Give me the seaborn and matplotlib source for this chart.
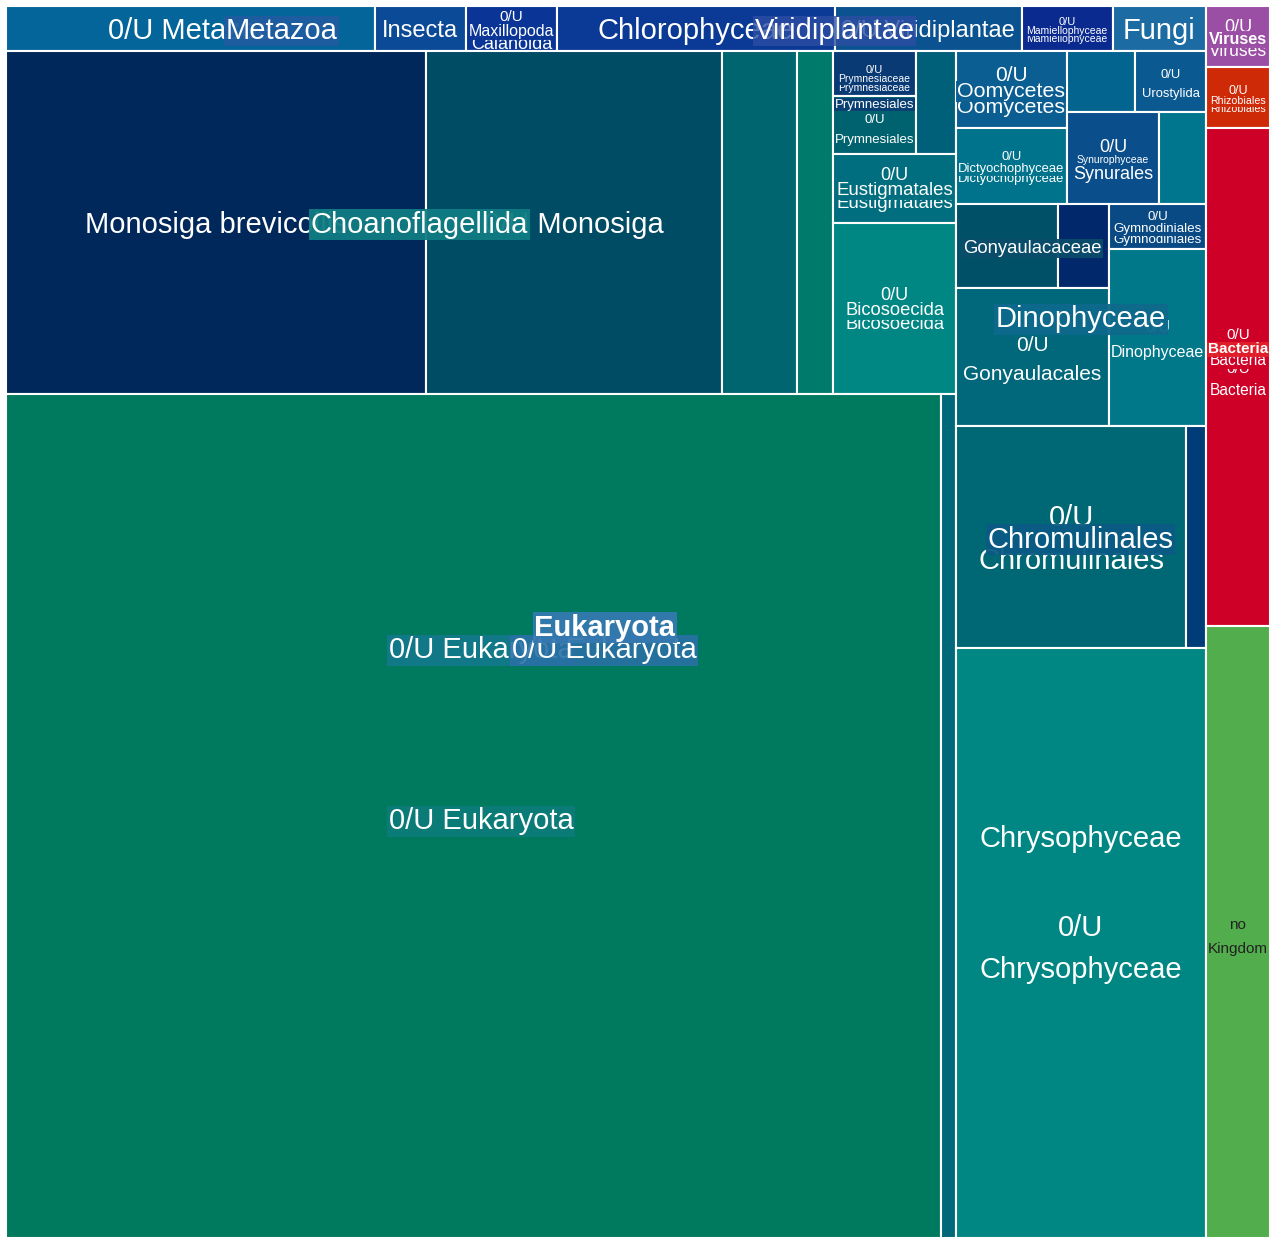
import matplotlib
matplotlib.use('Agg')
import matplotlib.pyplot as plt
from matplotlib.patches import Rectangle
import seaborn as sns

# leaf cells of the treemap (value ~ relative abundance)
leaf_names = ['metazoa_ou', 'insecta', 'calanoida', 'chlorophyceae', 'viridi_ou', 'mamiello', 'fungi',
              'monosiga_brev', 'monosiga_ou', 'choano_3', 'choano_4',
              'prymnesiaceae', 'prymnesiales_ou', 'hapto_x', 'eustigmatales', 'bicosoecida',
              'eukaryota_ou', 'eukaryota_x',
              'oomycetes', 'dictyo', 'stram_x', 'urostylida', 'synurales', 'stram_y',
              'gonyaulacaceae_a', 'gonyaulacaceae_b', 'gonyaulacales', 'gymnodiniales', 'dinophyceae_ou',
              'chromulinales', 'chryso_x', 'chrysophyceae_ou',
              'viruses', 'rhizobiales', 'bacteria_ou', 'no_kingdom']
leaf_values = [166, 41, 41, 125, 84, 41, 42,
               1441, 1015, 257, 123,
               37, 48, 41, 85, 210,
               7891, 127,
               85, 84, 42, 43, 85, 43,
               86, 43, 211, 44, 172,
               511, 44, 1475,
               39, 39, 319, 392]
leaf_colors = ['#03659a', '#0a4a96', '#0a3597', '#0a3a95', '#0b5290', '#0a2a90', '#1c6ba3',
               '#00285a', '#004c64', '#00656e', '#007a6a',
               '#0a3a74', '#00626e', '#00607a', '#006e7e', '#008784',
               '#007a5e', '#006878',
               '#0a5e92', '#00738c', '#03658f', '#0a5990', '#0a4e8c', '#00768e',
               '#005068', '#00286a', '#00687a', '#0a4a84', '#00788a',
               '#006775', '#003c78', '#008784',
               '#9b4fa4', '#cf2a08', '#cf0027', '#52ad4c']

values = dict(zip(leaf_names, leaf_values))
colors = dict(zip(leaf_names, leaf_colors))

# nesting of the treemap: (group, split direction, children)
tree = ('root', 'h', [
    ('eukaryota', 'v', [
        ('top', 'h', [('metazoa', 'h', ['metazoa_ou', 'insecta', 'calanoida']),
                      ('viridiplantae', 'h', ['chlorophyceae', 'viridi_ou', 'mamiello']),
                      'fungi']),
        ('body', 'h', [
            ('left', 'v', [
                ('row1', 'h', [
                    ('choanoflagellida', 'h', ['monosiga_brev', 'monosiga_ou', 'choano_3', 'choano_4']),
                    ('mid', 'v', [('pry_block', 'h', [('prymnesiales', 'v', ['prymnesiaceae', 'prymnesiales_ou']),
                                                      'hapto_x']),
                                  'eustigmatales', 'bicosoecida'])]),
                ('eukaryota_ou_grp', 'h', ['eukaryota_ou', 'eukaryota_x'])]),
            ('right', 'v', [
                ('upper', 'v', [
                    ('strameno', 'h', [('col_oomy', 'v', ['oomycetes', 'dictyo']),
                                       ('col_syn', 'v', [('row_uro', 'h', ['stram_x', 'urostylida']),
                                                         ('row_syn', 'h', ['synurales', 'stram_y'])])]),
                    ('dinophyceae', 'h', [('dino_c', 'v', [('gonyaulacaceae', 'h', ['gonyaulacaceae_a', 'gonyaulacaceae_b']),
                                                           'gonyaulacales']),
                                          ('dino_d', 'v', ['gymnodiniales', 'dinophyceae_ou'])])]),
                ('chrysophyceae', 'v', [('chromulinales_grp', 'h', ['chromulinales', 'chryso_x']),
                                        'chrysophyceae_ou'])])])]),
    ('others', 'v', ['viruses', ('bacteria', 'v', ['rhizobiales', 'bacteria_ou']), 'no_kingdom'])])


def node_value(node):
    if isinstance(node, str):
        return values[node]
    return sum(node_value(k) for k in node[2])


def layout(node, x, y, w, h, rects):
    if isinstance(node, str):
        rects[node] = (x, y, w, h)
        return
    name, direction, kids = node
    rects[name] = (x, y, w, h)
    total = node_value(node)
    pos = 0.0
    for k in kids:
        f = node_value(k) / total
        if direction == 'h':
            layout(k, x + pos * w, y, f * w, h, rects)
        else:
            layout(k, x, y + pos * h, w, f * h, rects)
        pos += f


W, H = 1264, 1232
rects = {}
layout(tree, 0, 0, W, H, rects)

# labels: (node, text, dx, dy, size, bold, box colour)
labels = [
    ('metazoa_ou', '0/U Metazoa', 0, 0, 21, False, None),
    ('metazoa', 'Metazoa', 0, 0, 21, False, '#1f5ca0'),
    ('insecta', 'Insecta', 0, 0, 17, False, None),
    ('calanoida', '0/U', 0, -14.5, 11, False, None),
    ('calanoida', 'Calanoida', 0, 13.5, 13, False, None),
    ('calanoida', 'Maxillopoda', 0, 0.5, 11.5, False, 'cell'),
    ('chlorophyceae', 'Chlorophyceae', 0, 0, 21, False, None),
    ('viridi_ou', '0/U Viridiplantae', 0, 0, 17, False, None),
    ('viridiplantae', 'Viridiplantae', 0, 0, 21, False, '#2d4ea3'),
    ('mamiello', '0/U', 0, -9.5, 8, False, None),
    ('mamiello', 'Mamiellophyceae', 0, 7.5, 7.5, False, None),
    ('mamiello', 'Mamiellophyceae', 0, -0.5, 7.5, False, 'cell'),
    ('fungi', 'Fungi', 0, 0, 21, False, None),
    ('viruses', '0/U', 0, -11.5, 13, False, None),
    ('viruses', 'Viruses', 0, 12.5, 12.7, False, None),
    ('viruses', 'Viruses', 0, 0.5, 11.7, True, 'cell'),
    ('rhizobiales', '0/U', 0, -8.5, 9, False, None),
    ('rhizobiales', 'Rhizobiales', 0, 9.5, 7.7, False, None),
    ('rhizobiales', 'Rhizobiales', 0, 1.5, 7.7, False, 'cell'),
    ('bacteria_ou', '0/U', 0, -10, 11, False, None),
    ('bacteria_ou', 'Bacteria', 0, 11, 11.2, False, None),
    ('bacteria', '0/U', 0, -13.5, 11, False, None),
    ('bacteria', 'Bacteria', 0, 11.5, 11.2, False, '#cf0027'),
    ('bacteria', 'Bacteria', 0, 0.5, 11, True, '#e0202a'),
    ('monosiga_brev', 'Monosiga brevicollis', 0, 0, 21, False, None),
    ('monosiga_ou', '0/U Monosiga', 0, 0, 21, False, None),
    ('choanoflagellida', 'Choanoflagellida', 0, 0, 21, False, '#0f7c82'),
    ('prymnesiaceae', '0/U', 0, -5.5, 8, False, None),
    ('prymnesiaceae', 'Prymnesiaceae', 0, 12.5, 7.5, False, None),
    ('prymnesiaceae', 'Prymnesiaceae', 0, 3.5, 7.5, False, 'cell'),
    ('prymnesiales_ou', '0/U', 0, -7, 9.5, False, None),
    ('prymnesiales_ou', 'Prymnesiales', 0, 13, 9.5, False, None),
    ('prymnesiales', 'Prymnesiales', 0, 0, 9.5, False, '#0a3d74'),
    ('eustigmatales', '0/U', 0, -15, 13, False, None),
    ('eustigmatales', 'Eustigmatales', 0, 13, 13.4, False, None),
    ('eustigmatales', 'Eustigmatales', 0, 0, 13.4, False, 'cell'),
    ('bicosoecida', '0/U', 0, -15, 13, False, None),
    ('bicosoecida', 'Bicosoecida', 0, 14, 13.2, False, None),
    ('bicosoecida', 'Bicosoecida', 0, 0, 13.2, False, 'cell'),
    ('oomycetes', '0/U', 0, -16, 15, False, None),
    ('oomycetes', 'Oomycetes', 0, 16, 15.4, False, None),
    ('oomycetes', 'Oomycetes', 0, 0, 15.4, False, 'cell'),
    ('dictyo', '0/U', 0, -11, 9.4, False, None),
    ('dictyo', 'Dictyochophyceae', 0, 11, 9.4, False, None),
    ('dictyo', 'Dictyochophyceae', 0, 1, 9.4, False, 'cell'),
    ('urostylida', '0/U', 0, -9, 9.4, False, None),
    ('urostylida', 'Urostylida', 0, 10, 9.4, False, None),
    ('synurales', '0/U', 0, -13, 13, False, None),
    ('synurales', 'Synurales', 0, 14, 13, False, None),
    ('synurales', 'Synurophyceae', 0, 0, 7.5, False, 'cell'),
    ('gymnodiniales', '0/U', 0, -11.5, 9.6, False, None),
    ('gymnodiniales', 'Gymnodiniales', 0, 11, 9.6, False, None),
    ('gymnodiniales', 'Gymnodiniales', 0, 0, 9.6, False, 'cell'),
    ('gonyaulacales', '0/U', 0, -14, 15, False, None),
    ('gonyaulacales', 'Gonyaulacales', 0, 15, 15, False, None),
    ('dinophyceae_ou', '0/U', 0, -13, 11.5, False, None),
    ('dinophyceae_ou', 'Dinophyceae', 0, 12, 11.5, False, None),
    ('gonyaulacaceae', 'Gonyaulacaceae', 0, 0, 13.3, False, '#0a4d6c'),
    ('dinophyceae', 'Dinophyceae', 0, 2, 21, False, '#0e6a8c'),
    ('chromulinales', '0/U', 0, -22, 21, False, None),
    ('chromulinales', 'Chromulinales', 0, 21, 21, False, None),
    ('chromulinales_grp', 'Chromulinales', 0, 0, 21, False, '#0a5b84'),
    ('chrysophyceae', 'Chrysophyceae', 0, 4, 21, False, None),
    ('chrysophyceae_ou', '0/U', 0, -18, 21, False, None),
    ('chrysophyceae_ou', 'Chrysophyceae', 0, 24, 21, False, None),
    ('eukaryota_ou_grp', '0/U Eukaryota', 0, 3, 21, False, '#0d7c7a'),
    ('eukaryota_ou_grp', '0/U Eukaryota', 0, -168, 21, False, '#12788c'),
    ('eukaryota', '0/U Eukaryota', -2, 26, 21, False, '#2a70a6'),
    ('eukaryota', 'Eukaryota', -1, 3, 21, True, '#3579b0'),
    ('no_kingdom', 'no', 0, -9, 11, False, None),
    ('no_kingdom', 'Kingdom', 0, 15, 11, False, None),
]
see_through = {'Viridiplantae': 0.8, '0/U Eukaryota': 0.9}

sns.set_theme(style='white')
plt.rcParams['font.family'] = ['Liberation Sans', 'DejaVu Sans']

fig = plt.figure(figsize=(12.7, 12.38), dpi=100)
ax = fig.add_axes([6 / 1270, 0, W / 1270, H / 1238])
ax.set_xlim(0, W)
ax.set_ylim(H, 0)
ax.axis('off')

for name in leaf_names:
    x, y, w, h = rects[name]
    ax.add_patch(Rectangle((x, y), w, h, facecolor=colors[name], edgecolor='white', linewidth=1.5))

for node, text, dx, dy, size, bold, box in labels:
    x, y, w, h = rects[node]
    # matplotlib centres the text box a little higher than the reference
    cx, cy = x + w / 2 + dx, y + h / 2 + dy + 2.5
    tcolor = '#222222' if node == 'no_kingdom' else 'white'
    kw = {}
    if box is not None:
        fc = colors[node] if box == 'cell' else box
        kw['bbox'] = dict(boxstyle='square,pad=0.05', fc=fc, ec='none',
                          alpha=see_through.get(text, 0.95))
    ax.text(cx, cy, text, ha='center', va='center', fontsize=size, color=tcolor,
            fontweight='bold' if bold else 'normal', **kw)

fig.savefig('out.png', dpi=100)
